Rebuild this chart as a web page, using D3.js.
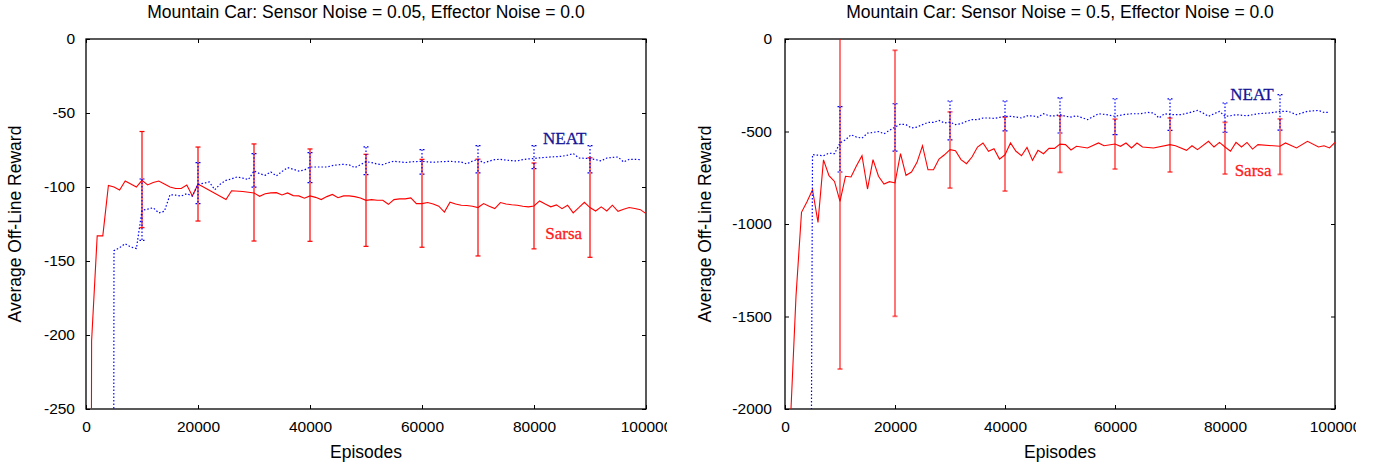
<!DOCTYPE html>
<html>
<head>
<meta charset="utf-8">
<script src="https://cdn.jsdelivr.net/npm/d3@7"></script>
<style>
  body { margin: 0; background: #fff; }
  svg { display: block; }
  text { font-family: "Liberation Sans", Arial, sans-serif; fill: #000; }
  .curve-label { font-family: "Liberation Serif", "Times New Roman", serif; font-size: 17px; }
</style>
</head>
<body>
<svg id="chart" width="1384" height="465"></svg>
<script>
// -------- Data --------
const xTicks = [0, 20000, 40000, 60000, 80000, 100000];
const errEpisodes = [10000, 20000, 30000, 40000, 50000, 60000, 70000, 80000, 90000];

// Panel 1: sensor noise 0.05
const lowTicksY = [0, -50, -100, -150, -200, -250];
const lowSarsa = [
  [0,-2000],[1000,-204],[2000,-133],[3000,-133],[4000,-99],[5000,-100],[6000,-102],[7000,-96],
  [8000,-98],[9000,-100],[10000,-95.5],[11000,-98.6],[12000,-97],[13000,-96],[14000,-98],[15000,-100],
  [16000,-101],[17000,-101],[18000,-98.6],[19000,-106],[20000,-98],[25000,-108.5],[26000,-102.5],
  [28000,-103],[30000,-104],[31000,-106.3],[32000,-104.5],[33000,-104],[34000,-103.8],[35000,-105.4],
  [36000,-104],[37000,-105.8],[38000,-106],[39000,-107.6],[40000,-106],[41000,-107],[42000,-108.5],
  [43000,-106.5],[44000,-105],[45000,-107.2],[46000,-106],[47000,-106],[48000,-106.5],[49000,-107.4],
  [50000,-109],[51000,-108.5],[52000,-109],[53000,-109],[54000,-111.7],[55000,-108.5],[56000,-108],
  [57000,-108],[58000,-107.4],[59000,-111.2],[60000,-111.2],[61000,-110.5],[62000,-111.5],[63000,-113],
  [64000,-116.9],[65000,-110.3],[66000,-111.5],[67000,-112.3],[68000,-112.5],[69000,-113],[70000,-113.9],
  [71000,-111.2],[72000,-113],[73000,-114.6],[74000,-110.5],[75000,-111.5],[76000,-112],[77000,-112.3],
  [78000,-113],[79000,-113.4],[80000,-112.8],[81000,-109.4],[82000,-111.5],[83000,-113.4],[84000,-112.1],
  [85000,-114.6],[86000,-112.3],[87000,-117.5],[88000,-114],[89000,-110.3],[90000,-113.9],[91000,-116.2],
  [92000,-113.4],[93000,-116.2],[94000,-112.3],[95000,-116.4],[96000,-115],[97000,-113.9],[98000,-114.5],
  [99000,-115.3],[100000,-118]
];
const lowNeat = [
  [4000,-3000],[5000,-143],[6000,-141],[7000,-138.3],[8000,-140.5],[9000,-141.6],[10000,-115.7],
  [11000,-115],[12000,-114],[13000,-117.5],[14000,-116.4],[15000,-105.2],[16000,-105.5],[17000,-106.1],
  [18000,-104.5],[19000,-106.1],[20000,-98.2],[21000,-97.5],[22000,-96.6],[23000,-101.8],[24000,-98],
  [25000,-95.5],[26000,-94.5],[27000,-93.2],[28000,-94],[29000,-95],[30000,-89.2],[31000,-91],
  [32000,-92.1],[33000,-89.9],[34000,-92.5],[35000,-89.5],[36000,-86.9],[37000,-88],[38000,-89.2],
  [39000,-88.5],[40000,-86.5],[41000,-86.5],[42000,-86.5],[43000,-86.5],[44000,-85.5],[45000,-85],
  [46000,-84.7],[47000,-85.1],[48000,-86.9],[49000,-85],[50000,-82.9],[51000,-83.5],[52000,-84.5],
  [53000,-84.9],[54000,-83.5],[55000,-82.6],[56000,-83],[57000,-83.5],[58000,-83],[59000,-82.8],
  [60000,-82.6],[61000,-83],[62000,-83.3],[63000,-83],[64000,-82.8],[65000,-82.6],[66000,-83],
  [67000,-83.1],[68000,-84.4],[69000,-82.5],[70000,-81.3],[71000,-83.8],[72000,-82.5],[73000,-81.5],
  [74000,-81.3],[75000,-81.8],[76000,-82.2],[77000,-82.4],[78000,-81.5],[79000,-81],[80000,-80.8],
  [81000,-80.3],[82000,-80],[83000,-79.7],[84000,-79.5],[85000,-79.2],[86000,-78.5],[87000,-77.4],
  [88000,-80.4],[89000,-80.6],[90000,-80.8],[91000,-81.5],[92000,-82.4],[93000,-80.4],[94000,-80],
  [95000,-79.7],[96000,-83.1],[97000,-81.3],[98000,-81.3],[99000,-81.5]
];
const lowSarsaMean = [-95, -98, -103.7, -105.5, -109, -111, -113.9, -112.8, -113.9];
const lowSarsaErr  = [32.5, 25, 32.8, 31.2, 31.1, 29.7, 32.7, 29, 33.6];
const lowNeatMean  = [-115.3, -97.4, -88.8, -86.9, -82.3, -83, -81.2, -79.8, -81.2];
const lowNeatErr   = [20.7, 13.9, 11.3, 10.1, 9.4, 8.3, 9.2, 7.8, 9.2];

// Panel 2: sensor noise 0.5
const highTicksY = [0, -500, -1000, -1500, -2000];
const highSarsa = [
  [0,-6000],[1000,-2060],[2000,-1391],[3000,-937],[4000,-880],[5000,-815],[6000,-991],[7000,-653],
  [8000,-739],[9000,-770],[10000,-878],[11000,-742],[12000,-746],[13000,-685],[14000,-631],[15000,-811],
  [16000,-652],[17000,-742],[18000,-784],[19000,-771],[20000,-778],[21000,-620],[22000,-737],[23000,-719],
  [24000,-667],[25000,-577],[26000,-707],[27000,-707],[28000,-649],[29000,-626],[30000,-598],[31000,-604],
  [32000,-652],[33000,-674],[34000,-638],[35000,-584],[36000,-562],[37000,-607],[38000,-593],[39000,-649],
  [40000,-626],[41000,-562],[42000,-607],[43000,-631],[44000,-586],[45000,-656],[46000,-602],[47000,-620],
  [48000,-591],[49000,-591],[50000,-568],[51000,-571],[52000,-600],[53000,-580],[55000,-589],[57000,-562],
  [58000,-577],[60000,-568],[61000,-580],[62000,-562],[63000,-589],[64000,-562],[65000,-584],[67000,-589],
  [70000,-571],[71000,-577],[73000,-602],[74000,-577],[75000,-598],[77000,-553],[78000,-584],[79000,-559],
  [80000,-584],[81000,-607],[82000,-559],[83000,-584],[84000,-559],[85000,-595],[86000,-571],[90000,-580],
  [91000,-562],[93000,-589],[95000,-553],[97000,-584],[98000,-577],[99000,-589],[100000,-559]
];
const highNeat = [
  [4000,-8000],[5000,-625],[6000,-628],[7000,-631],[8000,-617],[9000,-620],[10000,-562],[11000,-545],
  [12000,-518],[13000,-530],[14000,-536],[15000,-509],[16000,-505],[17000,-500],[18000,-512],[19000,-494],
  [20000,-476],[21000,-460],[22000,-463],[23000,-481],[24000,-476],[25000,-463],[26000,-451],[27000,-451],
  [28000,-440],[29000,-454],[30000,-449],[31000,-463],[32000,-458],[33000,-445],[34000,-436],[35000,-436],
  [36000,-427],[37000,-427],[38000,-429],[39000,-424],[40000,-418],[41000,-418],[42000,-422],[43000,-427],
  [44000,-415],[45000,-415],[46000,-422],[47000,-404],[48000,-415],[49000,-415],[50000,-409],[51000,-418],
  [52000,-422],[53000,-415],[55000,-436],[57000,-404],[58500,-409],[60000,-418],[61500,-409],[63000,-404],
  [64500,-404],[66000,-397],[67000,-400],[68000,-427],[69000,-404],[70000,-409],[72000,-409],[73300,-400],
  [75000,-386],[76000,-400],[77000,-418],[78000,-404],[79000,-391],[80000,-418],[81000,-415],[82000,-409],
  [84000,-415],[86000,-404],[88000,-400],[90000,-391],[91500,-391],[93000,-409],[95000,-391],[97000,-386],
  [98000,-397],[99000,-397]
];
const highSarsaMean = [-877, -780, -600, -622, -568, -568, -573, -590, -582];
const highSarsaErr  = [907, 719, 206, 200, 153, 135, 146, 140, 150];
const highNeatMean  = [-542, -478, -440, -416, -413, -420, -409, -425, -397];
const highNeatErr   = [177, 128, 105, 81, 95, 97, 85, 79, 96];

// -------- Drawing --------
const svg = d3.select("#chart");
const RED = "#ff0000", BLUE = "#0000ff";
const fmt = d => String(d);   // plain hyphen minus like gnuplot

function drawPanel(p) {
  const g = svg.append("g");
  const x = d3.scaleLinear().domain([0, 100000]).range([p.left, p.right]);
  const y = d3.scaleLinear().domain([p.yMin, 0]).range([409, 39]);

  // clip for the whole panel (tick label "100000" is cut at the edge)
  const panelClip = "panel-" + p.id;
  svg.append("clipPath").attr("id", panelClip)
    .append("rect").attr("x", p.left - 90).attr("y", 0)
    .attr("width", p.right - p.left + 90 + 21).attr("height", 465);
  g.attr("clip-path", `url(#${panelClip})`);

  const plotClip = "plot-" + p.id;
  svg.append("clipPath").attr("id", plotClip)
    .append("rect").attr("x", p.left).attr("y", 39)
    .attr("width", p.right - p.left).attr("height", 370);

  // Title
  g.append("text")
    .attr("x", (p.left + p.right) / 2).attr("y", 18)
    .attr("text-anchor", "middle").style("font-size", "17.5px")
    .text(p.title);

  // Axes (gnuplot style: ticks inward, mirrored)
  const tickLen = 4;
  g.append("g").attr("transform", `translate(0,409)`)
    .call(d3.axisBottom(x).tickValues(xTicks).tickSize(-tickLen).tickFormat(fmt))
    .call(a => a.select(".domain").remove())
    .call(a => a.selectAll("text").style("font-size", "15.5px").attr("dy", "0.71em").attr("y", 12));
  g.append("g").attr("transform", `translate(0,39)`)
    .call(d3.axisTop(x).tickValues(xTicks).tickSize(-tickLen).tickFormat(""))
    .call(a => a.select(".domain").remove());
  g.append("g").attr("transform", `translate(${p.left},0)`)
    .call(d3.axisLeft(y).tickValues(p.yTicks).tickSize(-tickLen).tickPadding(p.yPad).tickFormat(fmt))
    .call(a => a.select(".domain").remove())
    .call(a => a.selectAll("text").style("font-size", "15.5px"));
  g.append("g").attr("transform", `translate(${p.right},0)`)
    .call(d3.axisRight(y).tickValues(p.yTicks).tickSize(-tickLen).tickFormat(""))
    .call(a => a.select(".domain").remove());
  g.selectAll(".tick line").attr("stroke", "#000");

  // Frame
  g.append("rect")
    .attr("x", p.left).attr("y", 39)
    .attr("width", p.right - p.left).attr("height", 370)
    .attr("fill", "none").attr("stroke", "#000").attr("stroke-width", 1.3);

  // Axis labels
  g.append("text")
    .attr("x", (p.left + p.right) / 2).attr("y", 458)
    .attr("text-anchor", "middle").style("font-size", "17.5px")
    .text("Episodes");
  g.append("text")
    .attr("transform", `translate(${p.yLabelX},224) rotate(-90)`)
    .attr("text-anchor", "middle").style("font-size", "17.5px")
    .text("Average Off-Line Reward");

  const plot = g.append("g").attr("clip-path", `url(#${plotClip})`);
  const line = d3.line().x(d => x(d[0])).y(d => y(d[1]));

  function series(data, means, errs, color, dash, barStyle) {
    plot.append("path")
      .datum(data)
      .attr("d", line)
      .attr("fill", "none").attr("stroke", color)
      .attr("stroke-width", dash ? 1.2 : 1.1)
      .attr("stroke-dasharray", dash);

    const bars = plot.append("g")
      .attr("stroke", color).attr("stroke-width", barStyle.width)
      .attr("stroke-opacity", barStyle.opacity)
      .attr("stroke-dasharray", dash);
    errEpisodes.forEach((ep, i) => {
      const cx = x(ep), top = y(means[i] + errs[i]), bot = y(means[i] - errs[i]);
      bars.append("line").attr("x1", cx).attr("x2", cx).attr("y1", top).attr("y2", bot);
      bars.append("line").attr("x1", cx - 2.5).attr("x2", cx + 2.5).attr("y1", top).attr("y2", top)
        .attr("stroke-dasharray", null);
      bars.append("line").attr("x1", cx - 2.5).attr("x2", cx + 2.5).attr("y1", bot).attr("y2", bot)
        .attr("stroke-dasharray", null);
    });
  }

  series(p.sarsa, p.sarsaMean, p.sarsaErr, RED, null, p.redBars);
  series(p.neat, p.neatMean, p.neatErr, BLUE, "1.5,2", { width: 1.2, opacity: 1 });

  // Curve labels
  g.append("text").attr("class", "curve-label")
    .attr("x", x(p.neatLabel[0])).attr("y", y(p.neatLabel[1]))
    .attr("text-anchor", "middle").style("fill", "#141496")
    .style("stroke", "#141496").style("stroke-width", 0.3)
    .text("NEAT");
  g.append("text").attr("class", "curve-label")
    .attr("x", x(p.sarsaLabel[0])).attr("y", y(p.sarsaLabel[1]))
    .attr("text-anchor", "middle").style("fill", "#ff1a1a")
    .style("stroke", "#ff1a1a").style("stroke-width", 0.3)
    .text("Sarsa");
}

drawPanel({
  id: "low", left: 86, right: 646, yMin: -250, yTicks: lowTicksY, yPad: 11, yLabelX: 21,
  title: "Mountain Car: Sensor Noise = 0.05, Effector Noise = 0.0",
  sarsa: lowSarsa, neat: lowNeat,
  sarsaMean: lowSarsaMean, sarsaErr: lowSarsaErr, neatMean: lowNeatMean, neatErr: lowNeatErr,
  neatLabel: [85500, -71], sarsaLabel: [85300, -135],
  redBars: { width: 1.2, opacity: 1 }
});

drawPanel({
  id: "high", left: 785, right: 1335, yMin: -2000, yTicks: highTicksY, yPad: 13, yLabelX: 711,
  title: "Mountain Car: Sensor Noise = 0.5, Effector Noise = 0.0",
  sarsa: highSarsa, neat: highNeat,
  sarsaMean: highSarsaMean, sarsaErr: highSarsaErr, neatMean: highNeatMean, neatErr: highNeatErr,
  neatLabel: [84900, -330], sarsaLabel: [85100, -740],
  redBars: { width: 1.8, opacity: 0.6 }
});
</script>
</body>
</html>
